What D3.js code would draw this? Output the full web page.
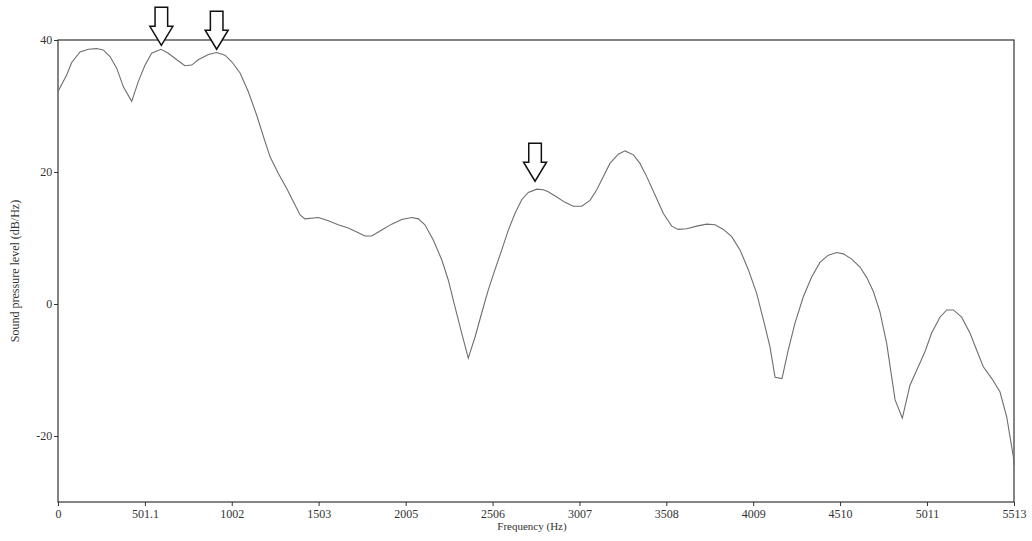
<!DOCTYPE html>
<html><head><meta charset="utf-8">
<script src="https://cdn.jsdelivr.net/npm/d3@7"></script>
<style>body{margin:0;background:#fff}svg{display:block}</style>
</head><body>
<script>
const freqHz = [0,50,79,127,175,223,261,300,339,377,425,463,502,540,594,636,685,732,771,809,867,915,963,1002,1050,1097,1146,1194,1223,1270,1319,1367,1396,1424,1501,1559,1616,1674,1732,1770,1809,1867,1924,1982,2040,2078,2116,2164,2213,2251,2289,2328,2366,2405,2443,2481,2520,2559,2597,2635,2674,2712,2761,2799,2827,2876,2924,2972,3020,3068,3107,3145,3183,3231,3270,3318,3356,3395,3443,3491,3539,3577,3626,3683,3741,3789,3837,3885,3933,3981,4029,4068,4106,4135,4175,4211,4250,4298,4346,4394,4442,4491,4529,4577,4625,4664,4702,4740,4779,4827,4869,4913,4961,5000,5038,5086,5125,5163,5211,5259,5298,5336,5385,5432,5471,5509,5513];
const levelDb = [32.2,34.7,36.6,38.2,38.6,38.7,38.5,37.5,35.7,32.9,30.7,33.7,36.2,38.0,38.6,38.0,37.0,36.1,36.2,37.0,37.8,38.1,37.7,36.7,35.0,32.2,28.6,24.6,22.3,19.8,17.5,15.0,13.5,12.9,13.1,12.6,12.0,11.5,10.8,10.3,10.3,11.2,12.1,12.8,13.1,12.9,12.0,9.7,6.7,3.6,-0.4,-4.4,-8.2,-5.0,-1.4,2.1,5.2,8.2,11.2,13.7,15.8,16.9,17.4,17.3,17.0,16.2,15.4,14.8,14.8,15.7,17.3,19.3,21.3,22.7,23.2,22.6,21.3,19.3,16.5,13.7,11.8,11.3,11.4,11.8,12.1,12.0,11.3,10.2,8.2,5.2,1.6,-2.4,-6.5,-11.1,-11.3,-7.0,-2.9,1.1,4.1,6.3,7.4,7.8,7.6,6.8,5.6,4.0,1.9,-1.2,-6.0,-14.5,-17.3,-12.3,-9.5,-7.2,-4.4,-2.0,-0.9,-0.9,-2.0,-4.4,-7.0,-9.5,-11.3,-13.3,-17.1,-23.1,-24.4];
const xTickValues = [0,501.1,1002,1503,2005,2506,3007,3508,4009,4510,5011,5513];
const xTickLabels = ["0","501.1","1002","1503","2005","2506","3007","3508","4009","4510","5011","5513"];
const yTickValues = [-20,0,20,40];
const yTickLabels = ["-20","0","20","40"];
const arrowFreqs = [596,915,2751];
const arrowDb = [39.2,38.6,18.6];

const W=1032,H=541, m={l:58,r:18,t:40,b:39};
const svg=d3.select("body").append("svg").attr("width",W).attr("height",H);
const x=d3.scaleLinear().domain([0,5513]).range([m.l,W-m.r]);
const y=d3.scaleLinear().domain([-30,40]).range([H-m.b,m.t]);
const font="'Liberation Serif','Times New Roman',serif";

const xa=svg.append("g").attr("transform",`translate(0,${H-m.b})`)
 .call(d3.axisBottom(x).tickValues(xTickValues).tickFormat((d,i)=>xTickLabels[i]).tickSize(4).tickSizeOuter(0));
const ya=svg.append("g").attr("transform",`translate(${m.l},0)`)
 .call(d3.axisLeft(y).tickValues(yTickValues).tickFormat((d,i)=>yTickLabels[i]).tickSize(4).tickSizeOuter(0));
[xa,ya].forEach(g=>{
 g.select(".domain").remove();
 g.selectAll("line").attr("stroke","#333");
 g.selectAll("text").attr("font-family",font).attr("font-size",12).attr("fill","#333");
});
ya.selectAll("text").attr("dx","0.1em");

svg.append("rect").attr("x",m.l).attr("y",m.t).attr("width",W-m.l-m.r).attr("height",H-m.t-m.b)
 .attr("fill","none").attr("stroke","#333").attr("stroke-width",1.2);

const pts=freqHz.map((f,i)=>[f,levelDb[i]]);
svg.append("path").datum(pts).attr("fill","none").attr("stroke","#6e6e6e").attr("stroke-width",1.1)
 .attr("d",d3.line().x(d=>x(d[0])).y(d=>y(d[1])));

const arrowShape="M0,0 L-11.5,-19 L-6.3,-19 L-6.3,-38 L6.3,-38 L6.3,-19 L11.5,-19 Z";
svg.selectAll(".arrow").data(arrowFreqs).enter().append("path").attr("class","arrow")
 .attr("transform",(d,i)=>`translate(${x(d)},${y(arrowDb[i])})`)
 .attr("d",arrowShape).attr("fill","#fff").attr("stroke","#111").attr("stroke-width",1.5).attr("stroke-linejoin","miter");

svg.append("text").attr("x",(m.l+W-m.r)/2-4).attr("y",530).attr("text-anchor","middle")
 .attr("font-family",font).attr("font-size",11).attr("fill","#333").text("Frequency (Hz)");
svg.append("text").attr("transform",`translate(19,${(m.t+H-m.b)/2}) rotate(-90)`).attr("text-anchor","middle")
 .attr("font-family",font).attr("font-size",12).attr("fill","#333").text("Sound pressure level (dB/Hz)");
</script>
</body></html>
